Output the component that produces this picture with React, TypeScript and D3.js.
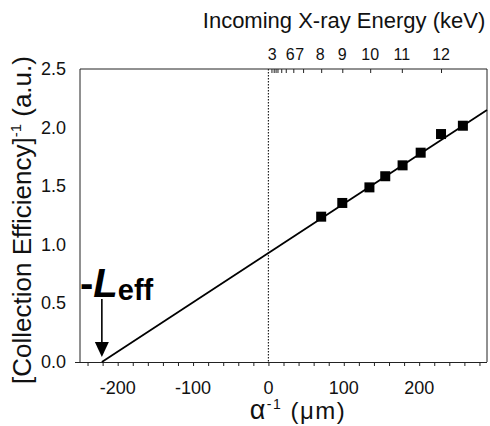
import React, { useEffect, useRef } from 'react';
import * as d3 from 'd3';

// measured points: alpha^-1 (um) vs inverse collection efficiency
const alphaInv = [70, 98, 134, 155, 178, 202, 229, 258];
const invEff = [1.24, 1.357, 1.49, 1.585, 1.678, 1.786, 1.945, 2.016];

// linear fit, extrapolated down to the x-intercept (-L_eff)
const fitX = [-221, 290];
const fitY = [0, 2.15];
const lEff = -221;

// top axis: photon energy mapped onto alpha^-1
const energyTickAlpha = [4, 7, 9.5, 12, 17, 23, 33, 46, 70, 98, 135, 177, 229];
const energyLabels = ['3', '6', '7', '8', '9', '10', '11', '12'];
const energyLabelAlpha = [4.9, 28.8, 41.4, 68.6, 97.8, 135, 177, 229];

const yTicks = [0, 0.5, 1.0, 1.5, 2.0, 2.5];
const xMajorTicks = [-200, -100, 0, 100, 200];
const xMinorTicks = d3.range(-240, 290, 20);

const font = 'Arial, "Liberation Sans", sans-serif';

const App = () => {
  const svgRef = useRef<SVGSVGElement>(null);

  useEffect(() => {
    const svg = d3.select(svgRef.current);
    svg.selectAll('*').remove();

    const left = 80, right = 487, top = 69, bottom = 362;

    const x = d3.scaleLinear().domain([-250, 290]).range([left, right]);
    const y = d3.scaleLinear().domain([0, 2.5]).range([bottom, top]);

    const ink = '#222';

    // frame (top, right, left)
    svg.append('path')
      .attr('d', `M${left},${bottom}V${top}H${right}V${bottom}`)
      .attr('fill', 'none')
      .attr('stroke', ink)
      .attr('stroke-width', 1);

    // bottom axis
    const gx = svg.append('g')
      .attr('transform', `translate(0,${bottom})`)
      .call(d3.axisBottom(x).tickValues(xMinorTicks).tickSize(4).tickFormat(() => ''));
    gx.select('.domain').attr('d', `M${left - 5},0.5H${right}`).attr('stroke', ink);
    gx.selectAll('line').attr('stroke', ink);

    svg.append('g')
      .selectAll('text')
      .data(xMajorTicks)
      .join('text')
      .attr('x', d => x(d))
      .attr('y', 394)
      .attr('text-anchor', 'middle')
      .attr('font-family', font)
      .attr('font-size', 18)
      .attr('fill', '#111')
      .text(d => String(d));

    // top axis (energy)
    const gt = svg.append('g')
      .attr('transform', `translate(0,${top})`)
      .call(d3.axisTop(x).tickValues(energyTickAlpha).tickSize(-4).tickFormat(() => ''));
    gt.select('.domain').remove();
    gt.selectAll('line').attr('stroke', ink);

    svg.append('g')
      .selectAll('text')
      .data(energyLabels)
      .join('text')
      .attr('x', (d, i) => x(energyLabelAlpha[i]))
      .attr('y', 60)
      .attr('text-anchor', 'middle')
      .attr('font-family', font)
      .attr('font-size', 16)
      .attr('fill', '#111')
      .text(d => d);

    // left tick labels (no tick marks)
    svg.append('g')
      .selectAll('text')
      .data(yTicks)
      .join('text')
      .attr('x', 66)
      .attr('y', d => y(d) + 6)
      .attr('text-anchor', 'end')
      .attr('font-family', font)
      .attr('font-size', 18)
      .attr('fill', '#111')
      .text(d => d.toFixed(1));

    // dotted line at alpha^-1 = 0
    svg.append('line')
      .attr('x1', x(0)).attr('x2', x(0))
      .attr('y1', top).attr('y2', bottom)
      .attr('stroke', ink)
      .attr('stroke-width', 1.2)
      .attr('stroke-dasharray', '1.5,1.5');

    // fit line
    const line = d3.line<number>()
      .x(d => x(d))
      .y((d, i) => y(fitY[i]));
    svg.append('path')
      .datum(fitX)
      .attr('fill', 'none')
      .attr('stroke', '#000')
      .attr('stroke-width', 1.8)
      .attr('d', line);

    // data markers
    const s = 10;
    svg.append('g')
      .selectAll('rect')
      .data(alphaInv)
      .join('rect')
      .attr('x', d => x(d) - s / 2)
      .attr('y', (d, i) => y(invEff[i]) - s / 2)
      .attr('width', s)
      .attr('height', s)
      .attr('fill', '#000');

    // -L_eff annotation + arrow
    const ax = x(lEff);
    svg.append('line')
      .attr('x1', ax).attr('x2', ax)
      .attr('y1', 299).attr('y2', 344)
      .attr('stroke', '#000')
      .attr('stroke-width', 1.6);
    svg.append('path')
      .attr('d', `M${ax - 7},342L${ax + 7},342L${ax},357Z`)
      .attr('fill', '#000');

    const lab = svg.append('text')
      .attr('x', 80)
      .attr('y', 297)
      .attr('font-family', font)
      .attr('font-weight', 'bold')
      .attr('fill', '#000');
    lab.append('tspan').attr('font-size', 40).text('-');
    lab.append('tspan').attr('font-size', 40).attr('font-style', 'italic').text('L');
    lab.append('tspan').attr('font-size', 29).attr('dy', 3).text('eff');

    // titles
    svg.append('text')
      .attr('x', 344)
      .attr('y', 28)
      .attr('text-anchor', 'middle')
      .attr('font-family', font)
      .attr('font-size', 22)
      .attr('fill', '#111')
      .text('Incoming X-ray Energy (keV)');

    const xl = svg.append('text')
      .attr('x', 298)
      .attr('y', 419)
      .attr('text-anchor', 'middle')
      .attr('font-family', font)
      .attr('font-size', 24)
      .attr('letter-spacing', 1.5)
      .attr('fill', '#111');
    xl.append('tspan').attr('font-size', 27).text('\u03b1');
    xl.append('tspan').attr('font-size', 14).attr('dy', -10).text('-1');
    xl.append('tspan').attr('dy', 10).text(' (\u03bcm)');

    const yl = svg.append('text')
      .attr('transform', 'translate(31,220) rotate(-90)')
      .attr('text-anchor', 'middle')
      .attr('font-family', font)
      .attr('font-size', 26)
      .attr('fill', '#111');
    yl.append('tspan').text('[Collection Efficiency]');
    yl.append('tspan').attr('font-size', 15).attr('dy', -10).text('-1');
    yl.append('tspan').attr('dy', 10).text(' (a.u.)');
  }, []);

  return (
    <svg
      ref={svgRef}
      width={490}
      height={426}
      style={{ position: 'absolute', left: 0, top: 0, background: '#fff' }}
    />
  );
};

export default App;
